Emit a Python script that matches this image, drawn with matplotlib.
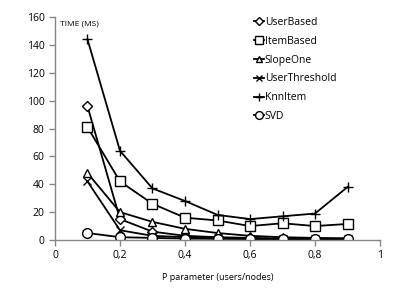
import numpy as np
import matplotlib
matplotlib.use("Agg")
import matplotlib.pyplot as plt
from matplotlib.ticker import FuncFormatter

p_values = [0.1, 0.2, 0.3, 0.4, 0.5, 0.6, 0.7, 0.8, 0.9]

user_based     = [96, 15, 6, 3, 2, 1.5, 1, 1, 1]
item_based     = [81, 42, 26, 16, 14, 10, 12, 10, 11.5]
slope_one      = [48, 20, 13, 8, 5, 3, 2, 1.5, 1]
user_threshold = [42, 7, 3, 2, 1.5, 1, 1, 1, 1]
knn_item       = [144, 64, 37, 28, 18, 15, 17, 19, 38]
svd            = [5, 2, 1.5, 1, 0.8, 0.7, 0.6, 0.5, 0.5]

series = [
    ("UserBased", user_based, "D", 5),
    ("ItemBased", item_based, "s", 7),
    ("SlopeOne", slope_one, "^", 6),
    ("UserThreshold", user_threshold, "x", 5.5),
    ("KnnItem", knn_item, "+", 7),
    ("SVD", svd, "o", 7),
]

plt.rcParams["font.family"] = ["Open Sans", "DejaVu Sans"]

fig = plt.figure(figsize=(4.15, 2.94), dpi=100)
ax = fig.add_axes([0.1325, 0.1837, 0.7832, 0.7583])

for name, vals, marker, ms in series:
    ax.plot(p_values, vals, color="black", lw=1.3, marker=marker, ms=ms,
            mfc="white", mec="black", mew=1.0, label=name)

ax.set_xlim(0, 1)
ax.set_ylim(0, 160)
ax.set_xticks(np.arange(0, 1.01, 0.2))
ax.set_yticks(np.arange(0, 161, 20))
ax.xaxis.set_major_formatter(FuncFormatter(lambda v, p: ("%g" % round(v, 1)).replace(".", ",")))

for side in ["top", "right"]:
    ax.spines[side].set_visible(False)
for side in ["left", "bottom"]:
    ax.spines[side].set_color("#868686")
    ax.spines[side].set_linewidth(1.0)
ax.tick_params(axis="both", colors="#868686", labelcolor="black", labelsize=7.5,
               length=4, width=1.0, direction="out")

ax.set_xlabel("P parameter (users/nodes)", fontsize=6.5, labelpad=8)
ax.text(0.015, 0.968, "TIME (MS)", transform=ax.transAxes, fontsize=6,
        ha="left", va="center")

ax.legend(loc="upper left", bbox_to_anchor=(0.6, 0.96), bbox_transform=fig.transFigure,
          frameon=False, fontsize=7.5, handlelength=0.9, handletextpad=0.1,
          labelspacing=0.75, markerscale=0.8, borderpad=0)

fig.savefig("out.png", dpi=100)
